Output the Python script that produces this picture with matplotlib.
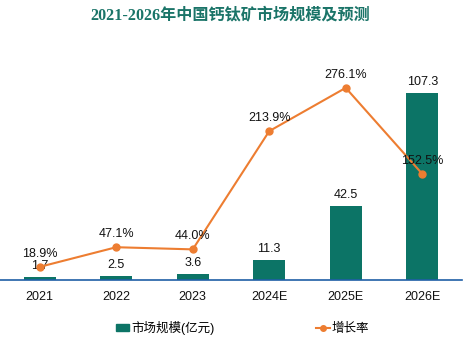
import matplotlib
matplotlib.use("Agg")
import matplotlib.pyplot as plt
from matplotlib.lines import Line2D
from matplotlib.patches import Patch

categories = ["2021", "2022", "2023", "2024E", "2025E", "2026E"]
market_size = [1.7, 2.5, 3.6, 11.3, 42.5, 107.3]
growth_rate = [18.9, 47.1, 44.0, 213.9, 276.1, 152.5]
title = "2021-2026年中国钙钛矿市场规模及预测"
bar_label = "市场规模(亿元)"
line_label = "增长率"

bar_color = "#0C7466"
line_color = "#ED7D31"
axis_color = "#1F5FA6"
title_color = "#1A7468"

plt.rcParams['font.family'] = ['Liberation Sans', 'Noto Sans CJK SC', 'DejaVu Sans']

fig = plt.figure(figsize=(4.75, 3.42), dpi=100)
ax = fig.add_axes([0.0, 0.1813, 0.9726, 0.6105])
x = list(range(len(categories)))
ax.bar(x, market_size, width=0.42, color=bar_color, zorder=2)
ax.set_xlim(-0.52, len(categories) - 0.48)
ax.set_ylim(0, 120)
for xi, v in zip(x, market_size):
    ax.annotate(f"{v:.1f}", (xi, v), xytext=(0, 8), textcoords="offset points",
                ha="center", va="center", fontsize=9, color="#111111", zorder=5)

ax2 = ax.twinx()
ax2.plot(x, growth_rate, color=line_color, lw=1.5, marker="o", ms=5, zorder=3)
ax2.set_ylim(0, 300)
for xi, v in zip(x, growth_rate):
    ax2.annotate(f"{v:.1f}%", (xi, v), xytext=(0, 9.5), textcoords="offset points",
                 ha="center", va="center", fontsize=9, color="#111111", zorder=5)

for a in (ax, ax2):
    for s in ("top", "left", "right"):
        a.spines[s].set_visible(False)
    a.set_yticks([])
ax2.spines["bottom"].set_visible(False)
ax.spines["bottom"].set_color(axis_color)
ax.spines["bottom"].set_linewidth(1.2)
ax.set_xticks(x)
ax.set_xticklabels(categories, fontsize=9, color="#111111")
ax.tick_params(axis="x", length=0, pad=8)
ax.patch.set_alpha(0)

fig.text(0.485, 0.955, title, ha="center", va="center", fontsize=11.6, fontweight="bold",
         color=title_color, family=['Liberation Serif', 'Noto Sans CJK SC'])

handles = [Patch(color=bar_color, label=bar_label),
           Line2D([0], [0], color=line_color, marker="o", ms=4, lw=1.5, label=line_label)]
fig.legend(handles=handles, loc="center", bbox_to_anchor=(0.51, 0.04), ncol=2,
           frameon=False, fontsize=9, handlelength=1.1, handleheight=0.5,
           handletextpad=0.15, columnspacing=8.1)

fig.savefig("out.png", dpi=100)
